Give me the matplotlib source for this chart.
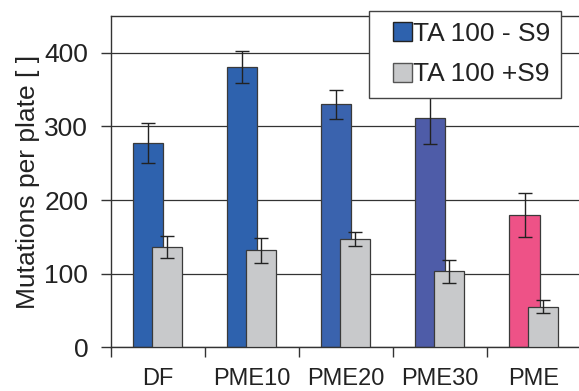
import numpy as np
import matplotlib.pyplot as plt
from matplotlib.patches import Patch, Rectangle
from matplotlib.legend_handler import HandlerPatch

plt.rcParams['font.family'] = ['Liberation Sans', 'DejaVu Sans']

muestras = ['DF', 'PME10', 'PME20', 'PME30', 'PME']
sin_s9 = [278, 381, 330, 311, 180]
sin_s9_err = [27, 22, 20, 35, 30]
con_s9 = [136, 132, 147, 103, 55]
con_s9_err = [15, 17, 10, 15, 9]
colores_sin = ['#2E62AE', '#2E62AE', '#3A63AE', '#4E5CA8', '#EE5287']
color_con = '#C8C9CB'


def cuadrado(legend, orig_handle, xdescent, ydescent, width, height, fontsize):
    # cuadrado pegado al texto, a la derecha del espacio del handle
    return Rectangle((width - height - xdescent, -ydescent), height, height)


fig = plt.figure(figsize=(5.79, 3.91), dpi=100)
ax = fig.add_axes([110.5/579, 43.7/391, 470.5/579, 331.3/391])

x = np.arange(len(muestras))
ancho = 0.32
ax.bar(x - 0.10, sin_s9, ancho, color=colores_sin, edgecolor='#3a3a3a',
       linewidth=0.9, zorder=2)
ax.errorbar(x - 0.10, sin_s9, yerr=sin_s9_err, fmt='none', ecolor='#222222',
            elinewidth=1.0, capsize=4.7, capthick=1.0, zorder=3)
ax.bar(x + 0.10, con_s9, ancho, color=color_con, edgecolor='#3a3a3a',
       linewidth=0.9, zorder=4)
ax.errorbar(x + 0.10, con_s9, yerr=con_s9_err, fmt='none', ecolor='#222222',
            elinewidth=1.0, capsize=4.7, capthick=1.0, zorder=5)

ax.set_xlim(-0.5, 4.5)
ax.set_ylim(0, 450)
ax.set_yticks([0, 100, 200, 300, 400])
ax.yaxis.grid(True, color='#333333', linewidth=0.9, zorder=0)
ax.set_axisbelow(True)
ax.tick_params(axis='y', labelsize=19, length=7, width=1, color='#333333',
               pad=9, labelcolor='#222222')

# ticks between groups, labels centered under each group
ax.set_xticks(np.arange(-0.5, 4.6, 1.0))
ax.set_xticklabels([])
ax.set_xticks(x, minor=True)
ax.set_xticklabels(muestras, minor=True, fontsize=17, color='#222222')
ax.tick_params(axis='x', which='major', length=7, width=1, color='#333333')
ax.tick_params(axis='x', which='minor', length=0, pad=15)

for lado in ['left', 'top', 'bottom']:
    ax.spines[lado].set_color('#333333')
    ax.spines[lado].set_linewidth(1.0)
ax.spines['right'].set_visible(False)

ax.set_ylabel('Mutations per plate [ ]', fontsize=19, labelpad=3,
              color='#222222')

handles = [Patch(facecolor='#2E62AE', edgecolor='#222222'),
           Patch(facecolor=color_con, edgecolor='#555555')]
leg = ax.legend(handles, ['TA 100 - S9', 'TA 100 +S9'], fontsize=19,
                loc='upper left', bbox_to_anchor=(369/579, 380/391),
                bbox_transform=fig.transFigure, frameon=True, fancybox=False,
                framealpha=1, handlelength=1.2, handleheight=0.72,
                handletextpad=0.05, borderpad=0.42, labelspacing=0.62,
                borderaxespad=0,
                handler_map={Patch: HandlerPatch(patch_func=cuadrado)})
leg.get_frame().set_edgecolor('#444444')
leg.get_frame().set_linewidth(1.0)
leg.set_zorder(10)
for t in leg.get_texts():
    t.set_color('#222222')

plt.savefig('out.png', dpi=100)
